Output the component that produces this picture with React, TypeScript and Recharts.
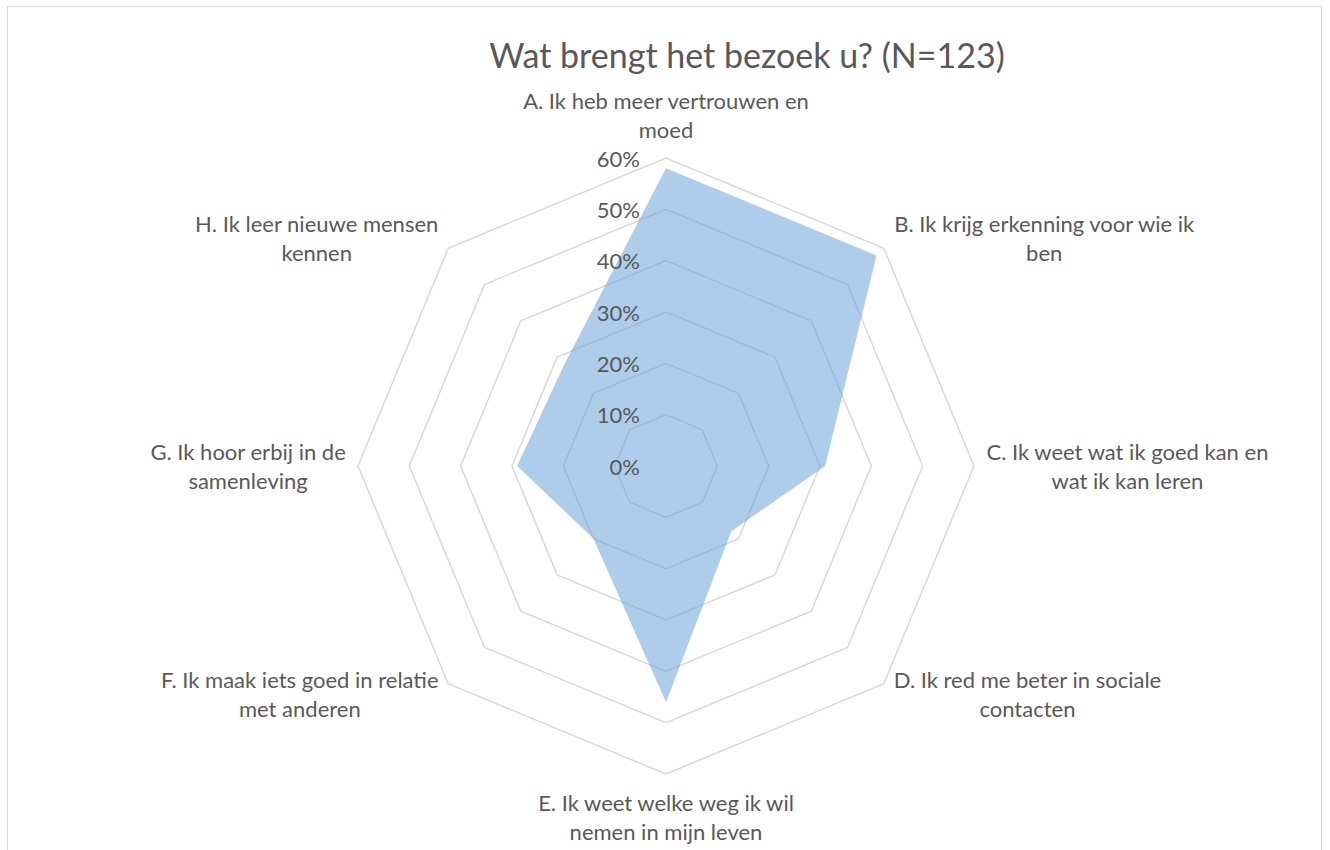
import React from "react";
import {
  PolarAngleAxis,
  PolarGrid,
  PolarRadiusAxis,
  Radar,
  RadarChart,
} from "recharts";

const title = "Wat brengt het bezoek u? (N=123)";

const categoryLines = [
  ["A. Ik heb meer vertrouwen en", "moed"],
  ["B. Ik krijg erkenning voor wie ik", "ben"],
  ["C. Ik weet wat ik goed kan en", "wat ik kan leren"],
  ["D. Ik red me beter in sociale", "contacten"],
  ["E. Ik weet welke weg ik wil", "nemen in mijn leven"],
  ["F. Ik maak iets goed in relatie", "met anderen"],
  ["G. Ik hoor erbij in de", "samenleving"],
  ["H. Ik leer nieuwe mensen", "kennen"],
];
const categories = categoryLines.map(lines => lines.join(" "));

// percent of respondents
const values = [58, 58, 31, 18, 46, 20, 29, 28];

const radiusTicks = [0, 10, 20, 30, 40, 50, 60];

const data = categories.map((category, i) => ({ category, value: values[i] }));

const FONT = "Lato, Carlito, Calibri, sans-serif";
const TEXT = "#595959";
const CX = 666;
const CY = 466;
const LABEL_SIZE = 22;
const LINE_H = 29;

let ctx: CanvasRenderingContext2D | null = null;
function textWidth(s: string) {
  if (!ctx) ctx = document.createElement("canvas").getContext("2d");
  if (!ctx) return s.length * 10;
  ctx.font = `${LABEL_SIZE}px ${FONT}`;
  return ctx.measureText(s).width;
}

function AngleTick(props: any) {
  const { x, y, payload } = props;
  const idx = categories.indexOf(payload.value);
  const lines = categoryLines[idx] || [String(payload.value)];
  const dx = x - CX;
  const dy = y - CY;
  const len = Math.sqrt(dx * dx + dy * dy) || 1;
  const ux = dx / len;
  const uy = dy / len;
  const w = Math.max(...lines.map(textWidth));
  const h = lines.length * LINE_H;
  const gap = 4;

  let centerX = x;
  if (ux > 0.1) centerX = x + gap + w / 2;
  else if (ux < -0.1) centerX = x - gap - w / 2;
  const centerY = y + uy * (6 + (Math.abs(uy) > 0.9 ? h / 2 : 0));
  const firstY = centerY - h / 2 + LINE_H / 2;

  return (
    <g>
      {lines.map((line, i) => (
        <text
          key={i}
          x={centerX}
          y={firstY + i * LINE_H}
          textAnchor="middle"
          dominantBaseline="central"
          fontFamily={FONT}
          fontSize={LABEL_SIZE}
          fill={TEXT}
        >
          {line}
        </text>
      ))}
    </g>
  );
}

function RadiusTick(props: any) {
  const { x, y, payload } = props;
  return (
    <text
      x={x - 26}
      y={y}
      textAnchor="end"
      dominantBaseline="central"
      fontFamily={FONT}
      fontSize={LABEL_SIZE}
      fill={TEXT}
    >
      {`${payload.value}%`}
    </text>
  );
}

export default function App() {
  return (
    <div
      style={{
        position: "absolute",
        left: 0,
        top: 0,
        width: 1330,
        height: 850,
        overflow: "hidden",
        background: "#fff",
      }}
    >
      <div
        style={{
          position: "absolute",
          left: 7,
          top: 6,
          width: 1315,
          height: 900,
          border: "1px solid #d9d9d9",
          boxSizing: "border-box",
        }}
      />
      <div
        style={{
          position: "absolute",
          left: 0,
          width: 1494,
          top: 33,
          textAlign: "center",
          fontFamily: FONT,
          fontSize: 34,
          color: TEXT,
          lineHeight: "44px",
        }}
      >
        {title}
      </div>
      <div style={{ position: "absolute", left: 0, top: 0 }}>
        <RadarChart
          width={1330}
          height={850}
          data={data}
          cx={CX}
          cy={CY}
          outerRadius={308}
          margin={{ top: 0, right: 0, bottom: 0, left: 0 }}
        >
          <PolarGrid
            gridType="polygon"
            radialLines={false}
            stroke="#d9d9d9"
            strokeWidth={1.5}
          />
          <PolarAngleAxis
            dataKey="category"
            tick={<AngleTick />}
            tickLine={false}
            axisLine={false}
          />
          <PolarRadiusAxis
            type="number"
            angle={90}
            domain={[0, 60]}
            allowDataOverflow
            tickCount={7}
            ticks={radiusTicks}
            tick={<RadiusTick />}
            axisLine={false}
            tickLine={false}
          />
          <Radar
            dataKey="value"
            fill="#5B9BD5"
            fillOpacity={0.5}
            stroke="none"
            dot={false}
            isAnimationActive={false}
          />
        </RadarChart>
      </div>
    </div>
  );
}
